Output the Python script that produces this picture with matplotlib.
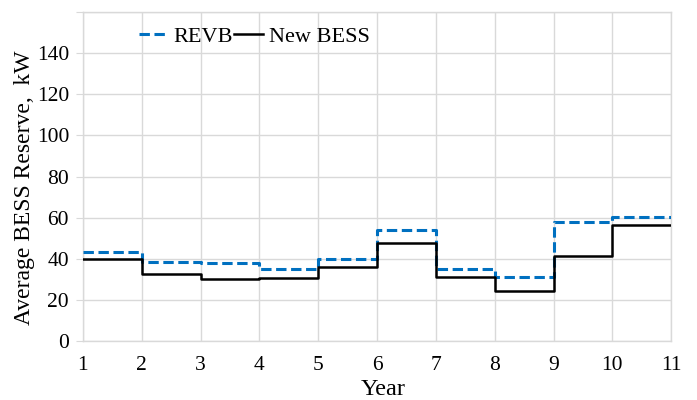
import matplotlib
matplotlib.use("Agg")
import matplotlib.pyplot as plt

# Average BESS reserve per year interval (kW)
years = [1, 2, 3, 4, 5, 6, 7, 8, 9, 10, 11]
revb = [43.3, 38.3, 38.0, 35.2, 39.7, 54.1, 34.9, 31.2, 58.0, 60.2]
new_bess = [40.0, 32.8, 30.0, 30.8, 35.9, 47.8, 31.2, 24.1, 41.2, 56.2]
y_ticks = [0, 20, 40, 60, 80, 100, 120, 140]

plt.rcParams["font.family"] = ["Liberation Serif", "DejaVu Serif"]

fig = plt.figure(figsize=(6.97, 4.0), dpi=100)
ax = fig.add_axes([0.119, 0.1475, 0.844, 0.8225])

grid_c = "#d9d9d9"
ax.step(years, revb + [revb[-1]], where="post", color="#0070C0", lw=2.2,
        linestyle=(0, (3.4, 1.5)), label="REVB", zorder=3)
ax.step(years, new_bess + [new_bess[-1]], where="post", color="black", lw=1.8,
        label="New BESS", zorder=4)

ax.set_xlim(1, 11)
ax.set_ylim(0, 160)
ax.set_xticks(years)
ax.set_yticks(y_ticks + [160])
ax.set_yticklabels([str(t) for t in y_ticks] + [""])
ax.grid(True, color=grid_c, lw=1.0)
ax.set_axisbelow(True)
for s in ax.spines.values():
    s.set_color(grid_c)
    s.set_linewidth(1.0)
ax.tick_params(axis="y", length=5, color=grid_c, labelsize=15.5, pad=5)
ax.tick_params(axis="x", length=0, labelsize=15.5, pad=11)

ax.set_xlabel("Year", fontsize=17.5, labelpad=4)
ax.xaxis.set_label_coords(0.51, -0.115)
ax.set_ylabel("Average BESS Reserve,  kW", fontsize=17, labelpad=5)
ax.yaxis.set_label_coords(-0.081, 0.465)

ax.legend(loc="upper left", bbox_to_anchor=(0.07, 1.0), ncol=2, frameon=False,
          fontsize=16, handlelength=1.3, handletextpad=0.25, columnspacing=0.08,
          borderaxespad=0.25)

fig.savefig("out.png", dpi=100)
